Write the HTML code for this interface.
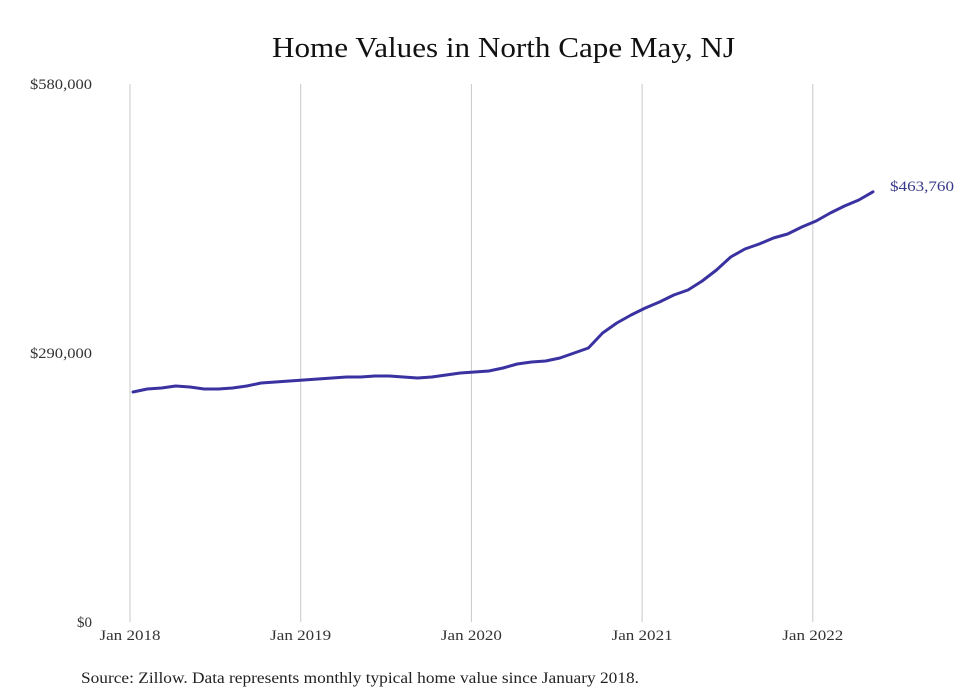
<!DOCTYPE html>
<html><head><meta charset="utf-8"><style>
body{margin:0;background:#fff;}
svg{display:block;font-family:"Liberation Serif",serif;}
</style></head><body>
<svg width="980" height="699" viewBox="0 0 980 699">
<text x="272" y="57" textLength="463" lengthAdjust="spacingAndGlyphs" font-size="28" fill="#111">Home Values in North Cape May, NJ</text>
<g id="grid"></g><g id="yaxis"></g><g id="xaxis"></g><g id="series"></g>
<text x="81" y="683" textLength="558" lengthAdjust="spacingAndGlyphs" font-size="15.5" fill="#222">Source: Zillow. Data represents monthly typical home value since January 2018.</text>
</svg>
<script>
const values=[248000,251190,252270,254420,253350,251190,251190,252270,254420,257660,258740,259820,260900,261970,263050,264130,264130,265200,265200,264130,263050,264130,266280,268440,269520,270590,273830,278140,280300,281380,284610,290000,295390,311560,322340,330970,338520,344990,352530,357920,367620,379480,393500,402120,407510,413980,418290,425840,432310,440930,448480,454950,463760];
const yTicks=[0,290000,580000];
const yTickLabels=["$0","$290,000","$580,000"];
const xTickMonths=[0,12,24,36,48];
const xTickLabels=["Jan 2018","Jan 2019","Jan 2020","Jan 2021","Jan 2022"];
const lastLabel="$463,760";
const NS="http://www.w3.org/2000/svg";
const Y0=622,Y1=84,VMAX=580000;
const yS=v=>Y0-(v/VMAX)*(Y0-Y1);
const xTick=m=>130+m*(170.7/12);
const xS=i=>133+i*(740/52);
function mk(t,a,p){const e=document.createElementNS(NS,t);for(const k in a)e.setAttribute(k,a[k]);p.appendChild(e);return e;}
const grid=document.getElementById('grid'),ya=document.getElementById('yaxis'),xa=document.getElementById('xaxis'),se=document.getElementById('series');
xTickMonths.forEach((m,i)=>{
 const l=mk('line',{x1:xTick(m),x2:xTick(m),y1:Y1,y2:Y0,stroke:'#c8c8c8','stroke-width':1},grid);
 
 
 const t=mk('text',{x:xTick(m)+0,y:640,'text-anchor':'middle','font-size':15,textLength:61,lengthAdjust:'spacingAndGlyphs',fill:'#333'},xa);
 t.textContent=xTickLabels[i];
 
 
});
yTicks.forEach((v,i)=>{
 const t=mk('text',{x:92,y:yS(v)+5,'text-anchor':'end','font-size':15,fill:'#333'},ya);
 if(i>0){t.setAttribute('textLength',62);t.setAttribute('lengthAdjust','spacingAndGlyphs');}
 t.textContent=yTickLabels[i];
 
 
});
const pts=values.map((v,i)=>xS(i).toFixed(1)+','+yS(v).toFixed(1)).join(' ');
const pl=mk('polyline',{points:pts,fill:'none',stroke:'#3a32a0','stroke-width':3,'stroke-linejoin':'round','stroke-linecap':'round'},se);


const li=values.length-1;
const lt=mk('text',{x:xS(li)+17,y:yS(values[li])-1,'font-size':15,textLength:64,lengthAdjust:'spacingAndGlyphs',fill:'#3a3a8a'},se);
lt.textContent=lastLabel;


</script>
</body></html>
